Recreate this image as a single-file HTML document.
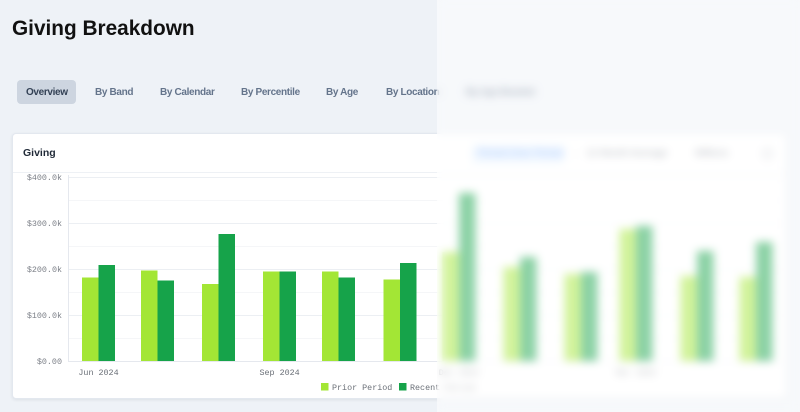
<!DOCTYPE html>
<html>
<head>
<meta charset="utf-8">
<style>
  html, body { margin:0; padding:0; }
  body { width:800px; height:412px; overflow:hidden; background:#eef2f7; position:relative; font-family:"Liberation Sans", sans-serif; }
  .title { position:absolute; left:12px; top:17px; font-size:20.8px; font-weight:bold; color:#111; letter-spacing:0px; white-space:nowrap; }
  .tab { position:absolute; top:87px; font-size:10px; font-weight:bold; color:#64748b; letter-spacing:-0.35px; white-space:nowrap; line-height:12px; }
  .pill { position:absolute; left:17px; top:80px; width:59px; height:24px; background:#cdd5e0; border-radius:4px; }
  .card { position:absolute; left:12px; top:133px; width:773px; height:264px; background:#fff; border:1px solid #e3e8ef; border-radius:4px; box-shadow:0 1px 3px rgba(15,23,42,0.08); }
  .ctitle { position:absolute; left:23px; top:147px; font-size:10.5px; font-weight:bold; color:#1f2937; white-space:nowrap; }
  .hdiv { position:absolute; left:13px; top:172px; width:772px; height:1px; background:#eef1f5; }
  .hbtn { position:absolute; top:148px; font-size:10px; white-space:nowrap; line-height:12px; }
  svg { position:absolute; left:0; top:0; }
  .overlay { position:absolute; left:437px; top:0; width:363px; height:412px; backdrop-filter:blur(4.5px); -webkit-backdrop-filter:blur(4.5px); background:rgba(255,255,255,0.5); }
</style>
</head>
<body>
  <div class="title">Giving Breakdown</div>

  <div class="pill"></div>
  <div class="tab" style="left:26px;color:#334155;">Overview</div>
  <div class="tab" style="left:95px;">By Band</div>
  <div class="tab" style="left:160px;">By Calendar</div>
  <div class="tab" style="left:241px;">By Percentile</div>
  <div class="tab" style="left:326px;">By Age</div>
  <div class="tab" style="left:386px;">By Location</div>
  <div class="tab" style="left:466px;">By Age Bracket</div>

  <div class="card"></div>
  <div class="ctitle">Giving</div>
  <div class="hdiv"></div>
  <div style="position:absolute;left:472px;top:145px;width:92px;height:18px;background:#e3f0ff;border-radius:3px;"></div>
  <div class="hbtn" style="left:478px;color:#3b82f6;">Period Over Period</div>
  <div style="position:absolute;left:574px;top:146px;width:1px;height:16px;background:#e5e7eb;"></div>
  <div class="hbtn" style="left:586px;color:#6b7280;">12-Month Average</div>
  <div class="hbtn" style="left:695px;color:#6b7280;">Millions</div>
  <div style="position:absolute;left:762px;top:148px;width:11px;height:11px;border-radius:50%;border:1.5px solid #9ca3af;box-sizing:border-box;"></div>

  <svg width="800" height="412" viewBox="0 0 800 412" xmlns="http://www.w3.org/2000/svg">
    <g stroke-width="1" shape-rendering="crispEdges">
      <line x1="68" x2="782" y1="200.5" y2="200.5" stroke="#f5f6f8"/>
      <line x1="68" x2="782" y1="246.5" y2="246.5" stroke="#f5f6f8"/>
      <line x1="68" x2="782" y1="292.5" y2="292.5" stroke="#f5f6f8"/>
      <line x1="68" x2="782" y1="338.5" y2="338.5" stroke="#f5f6f8"/>
      <line x1="68" x2="782" y1="177.5" y2="177.5" stroke="#eceff3"/>
      <line x1="68" x2="782" y1="223.5" y2="223.5" stroke="#eceff3"/>
      <line x1="68" x2="782" y1="269.5" y2="269.5" stroke="#eceff3"/>
      <line x1="68" x2="782" y1="315.5" y2="315.5" stroke="#eceff3"/>
      <line x1="68" x2="782" y1="361.5" y2="361.5" stroke="#e5e8ee"/>
      <line x1="68.5" x2="68.5" y1="175" y2="362" stroke="#e5e8ee"/>
    </g>
    <g font-family="Liberation Mono, monospace" font-size="8.4" fill="#7b7f87" text-anchor="end">
      <text x="62" y="180">$400.0k</text>
      <text x="62" y="226">$300.0k</text>
      <text x="62" y="272">$200.0k</text>
      <text x="62" y="318">$100.0k</text>
      <text x="62" y="364">$0.00</text>
    </g>
    <g font-family="Liberation Mono, monospace" font-size="8.4" fill="#6b7078" text-anchor="middle">
      <text x="98.5" y="375">Jun 2024</text>
      <text x="279.6" y="375">Sep 2024</text>
      <text x="458.8" y="375">Dec 2024</text>
      <text x="636" y="375">Mar 2025</text>
    </g>
    <g shape-rendering="crispEdges">
      <rect x="82" y="277.7" width="16.5" height="83.3" fill="#a3e635"/>
      <rect x="98.5" y="265" width="16.5" height="96" fill="#16a34a"/>
      <rect x="141.1" y="270.7" width="16.5" height="90.3" fill="#a3e635"/>
      <rect x="157.6" y="280.7" width="16.5" height="80.3" fill="#16a34a"/>
      <rect x="202.1" y="284" width="16.5" height="77" fill="#a3e635"/>
      <rect x="218.6" y="234" width="16.5" height="127" fill="#16a34a"/>
      <rect x="263.1" y="271.3" width="16.5" height="89.7" fill="#a3e635"/>
      <rect x="279.6" y="271.3" width="16.5" height="89.7" fill="#16a34a"/>
      <rect x="322.2" y="271.3" width="16.5" height="89.7" fill="#a3e635"/>
      <rect x="338.7" y="277.7" width="16.5" height="83.3" fill="#16a34a"/>
      <rect x="383.3" y="279.7" width="16.5" height="81.3" fill="#a3e635"/>
      <rect x="399.8" y="263" width="16.5" height="98" fill="#16a34a"/>
      <rect x="442.3" y="252" width="16.5" height="109" fill="#a3e635"/>
      <rect x="458.8" y="193" width="16.5" height="168" fill="#16a34a"/>
      <rect x="503.4" y="267" width="16.5" height="94" fill="#a3e635"/>
      <rect x="519.9" y="257" width="16.5" height="104" fill="#16a34a"/>
      <rect x="564.4" y="274" width="16.5" height="87" fill="#a3e635"/>
      <rect x="580.9" y="272" width="16.5" height="89" fill="#16a34a"/>
      <rect x="619.5" y="229" width="16.5" height="132" fill="#a3e635"/>
      <rect x="636" y="226" width="16.5" height="135" fill="#16a34a"/>
      <rect x="680.6" y="276" width="16.5" height="85" fill="#a3e635"/>
      <rect x="697.1" y="251" width="16.5" height="110" fill="#16a34a"/>
      <rect x="739.6" y="277" width="16.5" height="84" fill="#a3e635"/>
      <rect x="756.1" y="242" width="16.5" height="119" fill="#16a34a"/>
    </g>
    <rect x="321" y="383" width="7.5" height="7.5" fill="#a3e635"/>
    <text x="332" y="390" font-family="Liberation Mono, monospace" font-size="8.4" fill="#6b7078">Prior Period</text>
    <rect x="399" y="383" width="7.5" height="7.5" fill="#16a34a"/>
    <text x="410" y="390" font-family="Liberation Mono, monospace" font-size="8.4" fill="#6b7078">Recent Period</text>
  </svg>

  <div class="overlay"></div>
</body>
</html>
